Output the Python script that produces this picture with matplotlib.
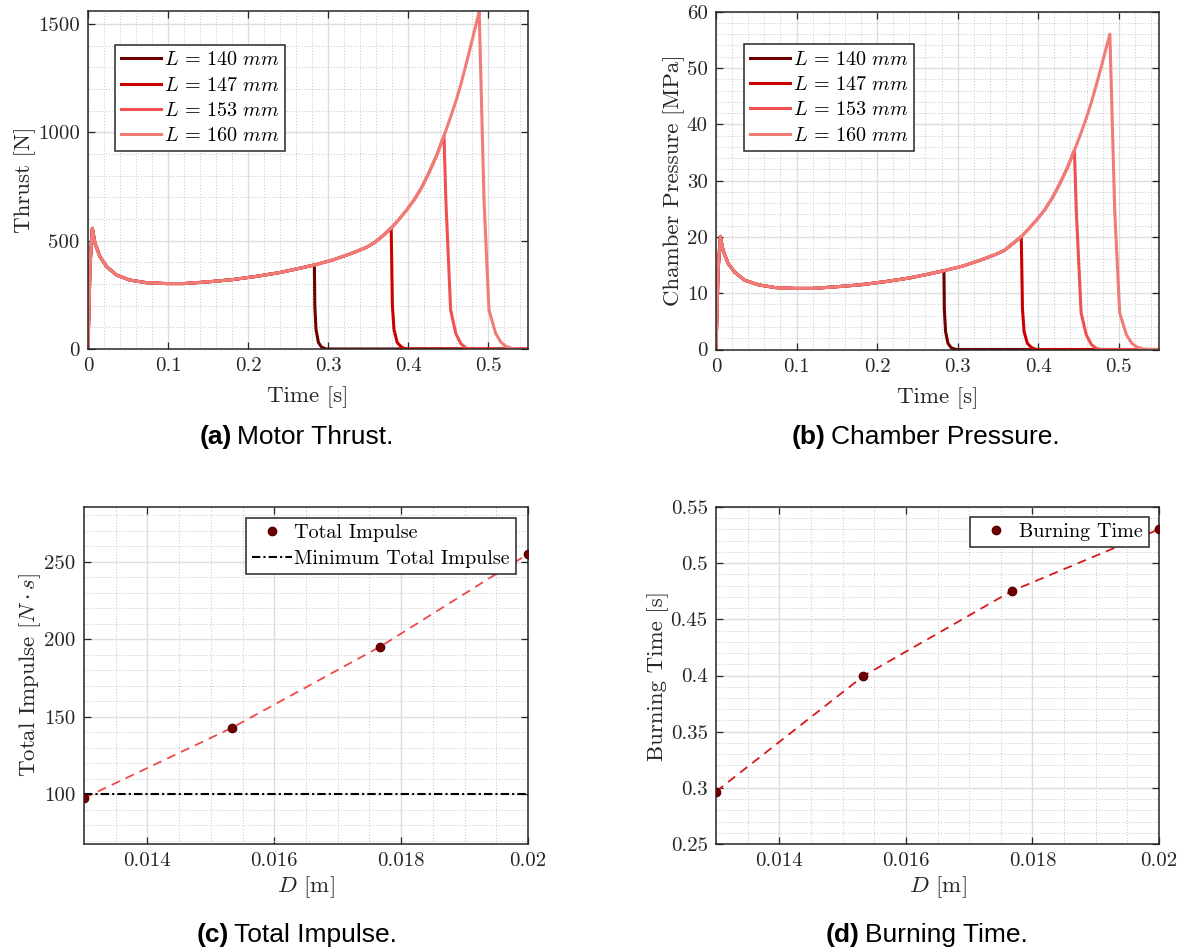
import matplotlib
matplotlib.use("Agg")
import matplotlib.pyplot as plt
from matplotlib.ticker import MultipleLocator, FixedLocator, FuncFormatter

plt.rcParams['font.family'] = 'cmr10'
plt.rcParams['mathtext.fontset'] = 'cm'
plt.rcParams['axes.formatter.use_mathtext'] = True

# shared burn curve (before each grain burns out)
t_env = [0, 0.0017, 0.0025, 0.0054, 0.0087, 0.015, 0.0233, 0.0358, 0.0524, 0.0732,
         0.098, 0.12, 0.15, 0.18, 0.21, 0.24, 0.264, 0.283, 0.306, 0.327,
         0.3475, 0.358, 0.368, 0.379, 0.388, 0.398, 0.408, 0.417, 0.426, 0.436,
         0.445, 0.453, 0.46, 0.466, 0.472, 0.4775, 0.4825, 0.486, 0.489]
thrust_env = [0, 250, 380, 557, 488, 426, 380, 341, 318, 306,
              302, 302, 310, 320, 335, 353, 372, 388, 411, 438,
              468, 491, 521, 558, 595, 640, 690, 745, 812, 895,
              984, 1068, 1145, 1220, 1305, 1385, 1460, 1512, 1555]
pres_env = [0, 9.0, 13.7, 20.1, 17.6, 15.3, 13.7, 12.3, 11.5, 11.0,
            10.85, 10.85, 11.15, 11.5, 12.05, 12.7, 13.4, 14.0, 14.8, 15.8,
            16.9, 17.6, 18.75, 20.05, 21.4, 23.0, 24.8, 26.8, 29.2, 32.2,
            35.4, 38.4, 41.2, 43.9, 46.9, 49.8, 52.5, 54.4, 56.0]

# grain lengths, burnout index on the shared curve and tail-off after burnout
lengths = ["140", "147", "153", "160"]
burnout_idx = [17, 23, 30, 38]
t_tail = [[0.2835, 0.285, 0.288, 0.292, 0.298, 0.55],
          [0.3805, 0.3825, 0.3865, 0.392, 0.398, 0.55],
          [0.4473, 0.4533, 0.4597, 0.466, 0.472, 0.478, 0.55],
          [0.495, 0.5012, 0.5096, 0.516, 0.522, 0.53, 0.537, 0.55]]
thrust_tail = [[200, 90, 30, 8, 0, 0],
               [200, 90, 30, 8, 0, 0],
               [688, 180, 72, 25, 6, 0, 0],
               [688, 180, 72, 32, 13, 3, 0, 0]]
pres_tail = [[7.2, 3.2, 1.1, 0.3, 0, 0],
             [7.2, 3.2, 1.1, 0.3, 0, 0],
             [24.7, 6.5, 2.6, 0.9, 0.2, 0, 0],
             [24.7, 6.5, 2.6, 1.15, 0.47, 0.1, 0, 0]]
line_colors = ["#6e0000", "#cc0000", "#f05050", "#f07c78"]

# port diameter sweep
diam = [0.013, 0.01533, 0.01767, 0.02]
total_impulse = [97.4, 142.7, 195.1, 254.9]
min_impulse = 100
burn_time = [0.2967, 0.3996, 0.4751, 0.5302]

W, H = 1184, 952
fig = plt.figure(figsize=(W / 100, H / 100), dpi=100)


def add_ax(left, right, top, bottom):
    return fig.add_axes([left / W, 1 - bottom / H, (right - left) / W, (bottom - top) / H])


def style(ax, xlim, ylim, xmaj, xmin, ymaj, ymin, xticks=None):
    ax.set_xlim(xlim)
    ax.set_ylim(ylim)
    if xticks is not None:
        ax.xaxis.set_major_locator(FixedLocator(xticks))
    else:
        ax.xaxis.set_major_locator(MultipleLocator(xmaj))
    ax.xaxis.set_minor_locator(MultipleLocator(xmin))
    ax.yaxis.set_major_locator(MultipleLocator(ymaj))
    ax.yaxis.set_minor_locator(MultipleLocator(ymin))
    fmt = FuncFormatter(lambda v, p: "%g" % round(v, 6))
    ax.xaxis.set_major_formatter(fmt)
    ax.yaxis.set_major_formatter(fmt)
    ax.grid(True, which='major', color='#dedede', lw=1.0, ls='-')
    ax.grid(True, which='minor', color='#c4c4c4', lw=0.7, ls=(0, (1, 2)))
    ax.set_axisbelow(True)
    ax.tick_params(which='major', direction='in', top=True, right=True,
                   length=5, width=0.9, color='#262626', labelsize=15,
                   labelcolor='#262626', pad=6)
    ax.tick_params(which='minor', length=0, top=True, right=True)
    for s in ax.spines.values():
        s.set_color('#262626')
        s.set_linewidth(1.1)


def leg(ax, **kw):
    lg = ax.legend(fontsize=14.5, fancybox=False, framealpha=1, edgecolor='#262626',
                   borderaxespad=0, borderpad=0.3, labelspacing=0.36,
                   handlelength=2.0, handletextpad=0.12, **kw)
    lg.get_frame().set_linewidth(1.1)
    return lg


def caption(x, y, tag, rest):
    t = fig.text(x / W, 1 - y / H, tag, fontsize=19, fontweight='bold',
                 family='Liberation Sans', ha='left', va='center', color='black')
    plt.annotate(rest, xy=(1, 0), xycoords=t, xytext=(5, 0), textcoords='offset pixels',
                 fontsize=19, family='Liberation Sans', ha='left', va='bottom',
                 color='black', annotation_clip=False)


# (a) thrust and (b) chamber pressure
ax_a = add_ax(88, 528, 11, 349)
ax_b = add_ax(716, 1159, 11.7, 349.5)
for i, L in enumerate(lengths):
    k = burnout_idx[i] + 1
    tt = t_env[:k] + t_tail[i]
    ax_a.plot(tt, thrust_env[:k] + thrust_tail[i], color=line_colors[i], lw=2.2,
              label=r'$L\,=\,%s\ mm$' % L)
    ax_b.plot(tt, pres_env[:k] + pres_tail[i], color=line_colors[i], lw=2.2,
              label=r'$L\,=\,%s\ mm$' % L)

style(ax_a, (0, 0.55), (0, 1560), 0.1, 0.02, 500, 100)
ax_a.set_xlabel('Time [s]', fontsize=16.5, color='#262626', labelpad=8)
ax_a.set_ylabel('Thrust [N]', fontsize=16.5, color='#262626', labelpad=1)
leg(ax_a, loc='upper left', bbox_to_anchor=(0.061, 0.899))

style(ax_b, (0, 0.55), (0, 60), 0.1, 0.02, 10, 2)
ax_b.set_xlabel('Time [s]', fontsize=16.5, color='#262626', labelpad=8)
ax_b.set_ylabel('Chamber Pressure [MPa]', fontsize=16.5, color='#262626', labelpad=1)
leg(ax_b, loc='upper left', bbox_to_anchor=(0.063, 0.903))

# (c) total impulse
ax_c = add_ax(84, 528, 507, 844)
ax_c.plot(diam, total_impulse, ls=(0, (5, 3.5)), color='#f04848', lw=1.3)
ax_c.plot(diam, total_impulse, 'o', color='#6e0000', ms=6, mec='#5a0000',
          label='Total Impulse', zorder=4)
ax_c.axhline(min_impulse, color='black', lw=1.5, ls=(0, (4, 1.5, 1, 1.5)),
             label='Minimum Total Impulse')
style(ax_c, (0.013, 0.02), (67.8, 285.2), None, 0.0005, 50, 10,
      xticks=[0.014, 0.016, 0.018, 0.02])
ax_c.set_xlabel(r'$D$ [m]', fontsize=16.5, color='#262626', labelpad=3)
ax_c.set_ylabel(r'Total Impulse $[N \cdot s]$', fontsize=16.5, color='#262626', labelpad=1)
leg(ax_c, loc='upper right', bbox_to_anchor=(0.973, 0.967))

# (d) burning time
ax_d = add_ax(716, 1159, 507, 844)
ax_d.plot(diam, burn_time, ls=(0, (5, 3.5)), color='#d81818', lw=1.3)
ax_d.plot(diam, burn_time, 'o', color='#6e0000', ms=6, mec='#5a0000',
          label='Burning Time', zorder=4)
style(ax_d, (0.013, 0.02), (0.25, 0.55), None, 0.0005, 0.05, 0.01,
      xticks=[0.014, 0.016, 0.018, 0.02])
ax_d.set_xlabel(r'$D$ [m]', fontsize=16.5, color='#262626', labelpad=3)
ax_d.set_ylabel('Burning Time [s]', fontsize=16.5, color='#262626', labelpad=1)
leg(ax_d, loc='upper right', bbox_to_anchor=(0.977, 0.970))

caption(200, 437, '(a)', 'Motor Thrust.')
caption(792, 437, '(b)', 'Chamber Pressure.')
caption(197, 935, '(c)', 'Total Impulse.')
caption(826, 935, '(d)', 'Burning Time.')

fig.savefig('out.png', dpi=100)
